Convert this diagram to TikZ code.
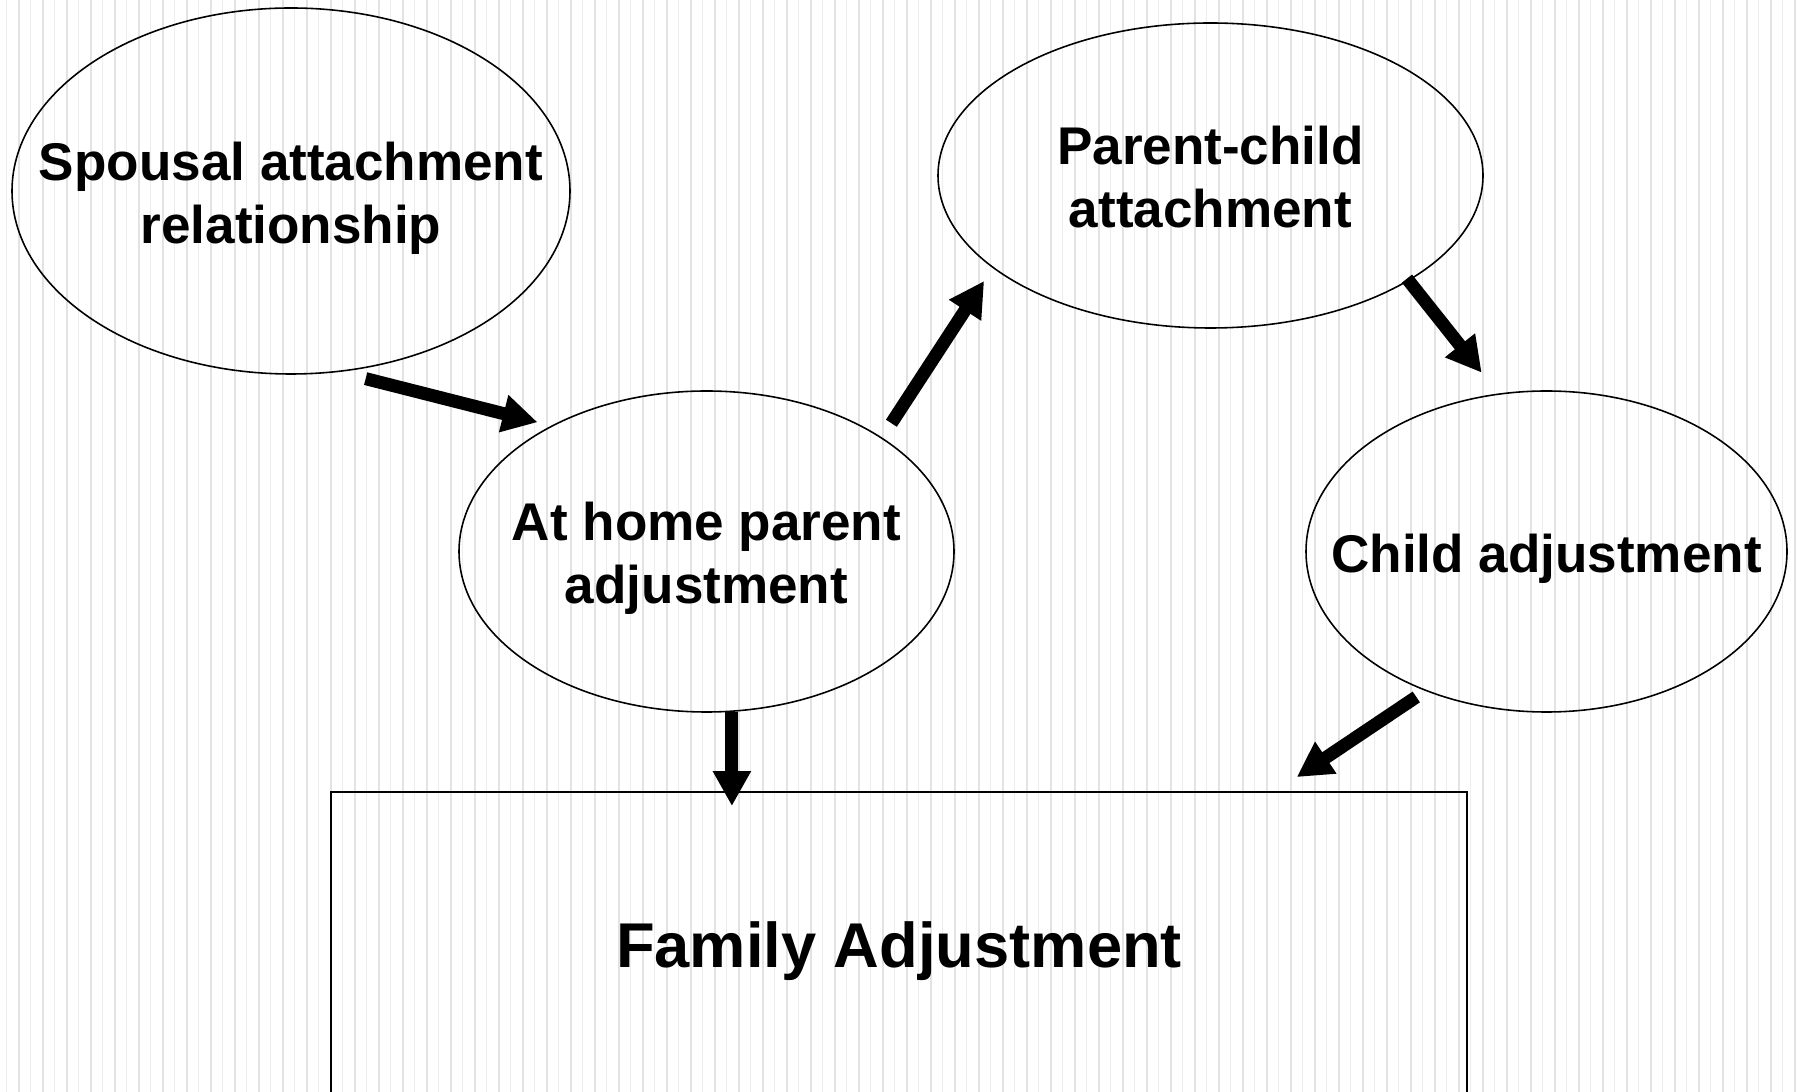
\documentclass[tikz,border=0pt]{standalone}
\usepackage{fontspec}
\setmainfont{Liberation Sans}
\usepackage{xcolor}
\usepackage{tikz}
\usetikzlibrary{arrows.meta, shapes.geometric}
\definecolor{stripegray}{HTML}{E3E3E3}
\definecolor{stripelight}{HTML}{EDEDED}

\tikzset{
  bubble/.style={ellipse, draw=black, line width=0.45pt, inner sep=0pt,
    font=\fontsize{15.1}{18}\selectfont\bfseries},
  fatarrow/.style={line width=0.13cm, -{Triangle[length=0.35cm, width=0.36cm]}}
}
\newcommand{\bubbletext}[1]{\makebox[0pt]{\raisebox{-0.08cm}[\height][\depth]{\begin{tabular}{@{}c@{}}#1\end{tabular}}}}

\begin{document}
\begin{tikzpicture}
    \clip (0,0) rectangle (17.98,-10.92);
    \fill[white] (0,0) rectangle (17.98,-10.92);
    % striped backdrop
    \foreach \i in {0,...,74} {
      \fill[stripelight] (0.062+0.24*\i,0) rectangle ++(0.012,-10.92);
      \fill[stripegray] (0.18+0.24*\i,0) rectangle ++(0.02,-10.92);
    }

    \node[bubble, minimum width=5.58cm, minimum height=3.66cm] (spousal) at (2.91,-1.91)
      {\bubbletext{Spousal attachment\\relationship}};
    \node[bubble, minimum width=5.45cm, minimum height=3.05cm] (parent) at (12.105,-1.755)
      {\bubbletext{Parent-child\\attachment}};
    \node[bubble, minimum width=4.95cm, minimum height=3.21cm] (home) at (7.065,-5.515)
      {\bubbletext{At home parent\\adjustment}};
    \node[bubble, minimum width=4.81cm, minimum height=3.21cm] (child) at (15.465,-5.515)
      {\bubbletext{Child adjustment}};
    \node[draw=black, line width=0.55pt, minimum width=11.36cm, minimum height=3.18cm,
          font=\fontsize{18}{22}\selectfont\bfseries] (family) at (8.99,-9.51) {Family Adjustment};

    \draw[fatarrow, shorten <=0.27cm, shorten >=0.14cm] (spousal.-75.7) -- (home.141);
    \draw[fatarrow, shorten <=0.17cm, shorten >=0.155cm] (home.33) -- (parent.203);
    \draw[fatarrow, shorten <=-0.03cm, shorten >=0.265cm] (parent.-28.7) -- (child.107);
    \draw[fatarrow, shorten <=0.108cm, shorten >=0.25cm] (child.229.6) -- (family.23.5);
    \draw[fatarrow, shorten >=-0.15cm] (home.-81) -- (home.-81 |- family.north);
\end{tikzpicture}
\end{document}
